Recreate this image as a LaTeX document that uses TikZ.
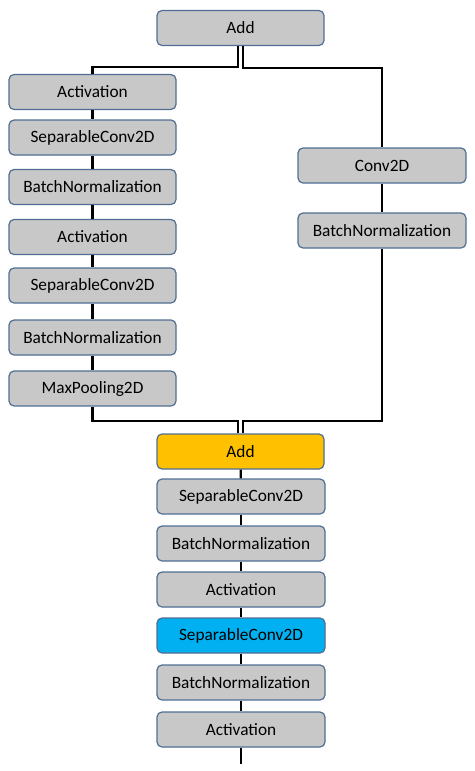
\documentclass[tikz,border=0pt]{standalone}
\usepackage{fontspec}
\setmainfont{Carlito}
\definecolor{boxgray}{RGB}{200,200,200}
\definecolor{boxedge}{RGB}{80,110,145}
\definecolor{addorange}{RGB}{255,192,0}
\definecolor{sepblue}{RGB}{0,176,240}
\tikzset{
  layer/.style={draw=boxedge, line width=1.2pt, fill=boxgray, rounded corners=5pt,
    minimum width=167pt, minimum height=35pt, inner sep=0pt,
    font=\fontsize{17.3}{20}\selectfont},
  link/.style={line width=2.2pt, black},
}
\begin{document}
\begin{tikzpicture}[x=1pt,y=-1pt]
\path[use as bounding box] (0,0) rectangle (474,771);
% top
\node[layer] (add1) at (240.5,28) {Add};
% left branch
\node[layer] (la1) at (92.5,92) {Activation};
\node[layer] (ls1) at (92.5,137.5) {SeparableConv2D};
\node[layer] (lb1) at (92.5,187) {BatchNormalization};
\node[layer] (la2) at (92.5,237) {Activation};
\node[layer] (ls2) at (92.5,285.5) {SeparableConv2D};
\node[layer] (lb2) at (92.5,337.5) {BatchNormalization};
\node[layer] (lmp) at (92.5,388.5) {MaxPooling2D};
% right branch
\node[layer, minimum width=168pt] (rc) at (382,165.5) {Conv2D};
\node[layer, minimum width=168pt] (rb) at (382,230.5) {BatchNormalization};
% middle add
\node[layer, fill=addorange] (add2) at (240.5,451.5) {Add};
% bottom column
\node[layer, minimum width=168pt] (bs1) at (241,496.5) {SeparableConv2D};
\node[layer, minimum width=168pt] (bb1) at (241,543.5) {BatchNormalization};
\node[layer, minimum width=168pt] (ba1) at (241,589.5) {Activation};
\node[layer, minimum width=168pt, fill=sepblue] (bs2) at (241,635.5) {SeparableConv2D};
\node[layer, minimum width=168pt] (bb2) at (241,682.5) {BatchNormalization};
\node[layer, minimum width=168pt] (ba2) at (241,729.5) {Activation};
\coordinate (out) at (241,764);
% connectors from top add
\draw[link] ([xshift=-2.5pt]add1.south) -- ++(0,21) -| (la1.north);
\draw[link] ([xshift=2.5pt]add1.south) -- ++(0,22) -| (rc.north);
% left chain
\draw[link] (la1) -- (ls1);
\draw[link] (ls1) -- (lb1);
\draw[link] (lb1) -- (la2);
\draw[link] (la2) -- (ls2);
\draw[link] (ls2) -- (lb2);
\draw[link] (lb2) -- (lmp);
% right chain
\draw[link] (rc) -- (rb);
% merge into add2
\draw[link] (lmp.south) -- ++(0,14) -| ([xshift=-2.5pt]add2.north);
\draw[link] (rb.south) -- ++(0,172) -| ([xshift=2.5pt]add2.north);
% bottom chain
\draw[link] (add2) -- (bs1);
\draw[link] (bs1) -- (bb1);
\draw[link] (bb1) -- (ba1);
\draw[link] (ba1) -- (bs2);
\draw[link] (bs2) -- (bb2);
\draw[link] (bb2) -- (ba2);
\draw[link] (ba2.south) -- (out);
\end{tikzpicture}
\end{document}
